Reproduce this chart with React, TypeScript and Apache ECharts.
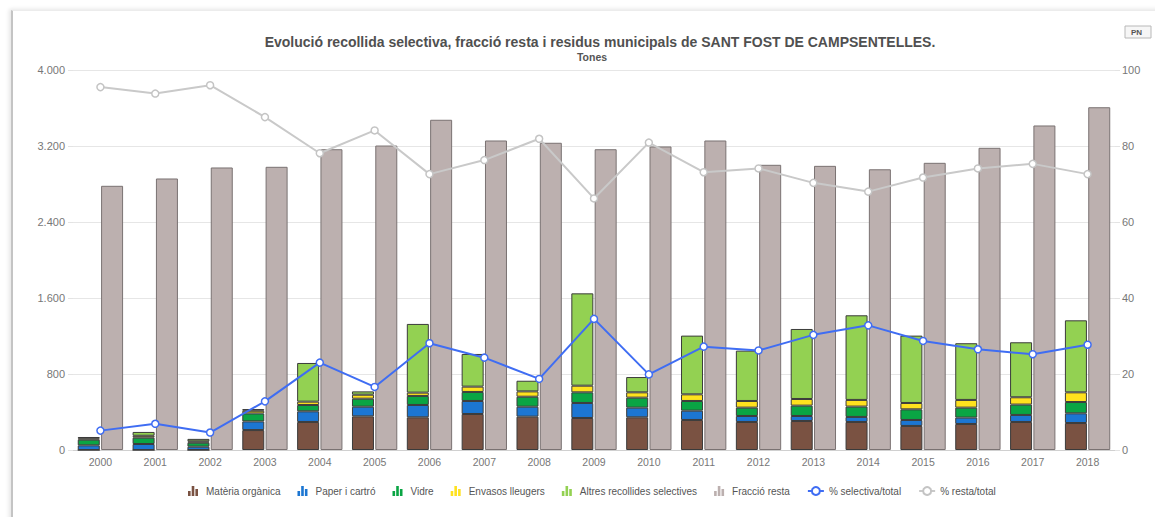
import React, { useEffect, useRef } from "react";
import * as echarts from "echarts";

// Years on the category axis
const years = [
  "2000", "2001", "2002", "2003", "2004", "2005", "2006", "2007", "2008", "2009",
  "2010", "2011", "2012", "2013", "2014", "2015", "2016", "2017", "2018",
];

// Selective collection fractions (tonnes), stacked bottom to top
const materiaOrganica = [0, 0, 0, 210, 295, 354, 344, 379, 351, 337, 344, 316, 295, 305, 295, 253, 274, 295, 284];
const paperCartro = [49, 63, 35, 91, 112, 102, 130, 137, 105, 158, 102, 98, 63, 53, 53, 63, 67, 74, 102];
const vidre = [60, 67, 42, 84, 67, 84, 95, 95, 105, 112, 105, 102, 88, 109, 109, 112, 105, 109, 119];
const envasos = [14, 20, 14, 28, 35, 42, 35, 56, 56, 70, 56, 70, 70, 70, 70, 67, 81, 77, 102];
const altres = [14, 40, 26, 18, 407, 35, 723, 344, 112, 972, 161, 618, 530, 737, 891, 709, 597, 579, 758];

// Residual fraction (tonnes)
const fraccioResta = [2781, 2858, 2974, 2981, 3166, 3205, 3476, 3258, 3234, 3166, 3195, 3258, 3002, 2991, 2955, 3023, 3181, 3416, 3608];

// Shares of the total (%)
const pctSelectiva = [5.1, 6.9, 4.6, 12.8, 23.0, 16.6, 28.1, 24.3, 18.7, 34.5, 19.9, 27.2, 26.2, 30.3, 32.8, 28.7, 26.5, 25.2, 27.7];
const pctResta = [95.5, 93.8, 96.0, 87.6, 78.1, 84.1, 72.6, 76.3, 81.9, 66.2, 80.9, 73.1, 74.1, 70.3, 68.0, 71.7, 74.1, 75.3, 72.6];

// Axis ticks
const leftMax = 4000;
const leftStep = 800;
const rightMax = 100;
const rightStep = 20;

const FONT = "'Liberation Sans', Arial, sans-serif";
const BAR_ICON =
  "path://M0,10 L0,5 L2.6,5 L2.6,10 Z M3.7,10 L3.7,0 L6.3,0 L6.3,10 Z M7.4,10 L7.4,3 L10,3 L10,10 Z";

const fmtThousands = (v: number) =>
  String(v).replace(/\B(?=(\d{3})+(?!\d))/g, ".");

export default function App() {
  const ref = useRef<HTMLDivElement>(null);

  useEffect(() => {
    document.body.style.margin = "0";
    if (!ref.current) return;
    const chart = echarts.init(ref.current, undefined, { renderer: "svg" });

    const stacked = (name: string, data: number[], color: string) => ({
      name,
      type: "bar",
      stack: "selectiva",
      yAxisIndex: 0,
      barWidth: 22,
      barGap: "6%",
      data,
      itemStyle: { color, borderColor: "#3b3b3b", borderWidth: 1 },
      emphasis: { disabled: true },
    });

    const barLegend = (name: string, color: string) => ({
      name,
      icon: BAR_ICON,
      itemStyle: { color, borderWidth: 0 },
    });

    chart.setOption({
      animation: false,
      backgroundColor: "transparent",
      textStyle: { fontFamily: FONT },
      graphic: [
        {
          type: "text",
          style: {
            text: "Evolució recollida selectiva, fracció resta i residus municipals de SANT FOST DE CAMPSENTELLES.",
            x: 600,
            y: 42,
            align: "center",
            verticalAlign: "middle",
            font: `bold 14px ${FONT}`,
            fill: "#505050",
          },
        },
        {
          type: "text",
          style: {
            text: "Tones",
            x: 592,
            y: 57,
            align: "center",
            verticalAlign: "middle",
            font: `bold 10.5px ${FONT}`,
            fill: "#555555",
          },
        },
        {
          type: "rect",
          shape: { x: 1125, y: 26, width: 26, height: 12 },
          style: { fill: "#f6f6f6", stroke: "#b8b8b8", lineWidth: 1 },
        },
        {
          type: "text",
          style: {
            text: "PN",
            x: 1131,
            y: 32,
            verticalAlign: "middle",
            font: `bold 8px ${FONT}`,
            fill: "#555",
          },
        },
      ],
      legend: {
        left: 183,
        top: 481,
        itemGap: 17,
        itemWidth: 16,
        itemHeight: 10,
        textStyle: { fontSize: 10, color: "#555", fontFamily: FONT },
        data: [
          barLegend("Matèria orgànica", "#7a5242"),
          barLegend("Paper i cartró", "#1c76d2"),
          barLegend("Vidre", "#0aa544"),
          barLegend("Envasos lleugers", "#ffe21e"),
          barLegend("Altres recollides selectives", "#93d152"),
          barLegend("Fracció resta", "#bcb0af"),
          { name: "% selectiva/total" },
          { name: "% resta/total" },
        ],
      },
      grid: { left: 73, right: 40, top: 70, bottom: 67, containLabel: false },
      xAxis: {
        type: "category",
        data: years,
        axisLine: { show: true, lineStyle: { color: "#d0d0d0" } },
        axisTick: { show: false },
        axisLabel: { color: "#777", fontSize: 10.5, margin: 6, fontFamily: FONT },
      },
      yAxis: [
        {
          type: "value",
          min: 0,
          max: leftMax,
          interval: leftStep,
          axisLine: { show: false },
          axisTick: { show: true, length: 5, lineStyle: { color: "#e3e3e3" } },
          axisLabel: {
            color: "#777",
            fontSize: 11,
            margin: 8,
            fontFamily: FONT,
            formatter: (v: number) => fmtThousands(v),
          },
          splitLine: { show: true, lineStyle: { color: "#e6e6e6" } },
        },
        {
          type: "value",
          min: 0,
          max: rightMax,
          interval: rightStep,
          position: "right",
          axisLine: { show: false },
          axisTick: { show: true, length: 5, lineStyle: { color: "#e3e3e3" } },
          axisLabel: { color: "#777", fontSize: 11, margin: 7, fontFamily: FONT },
          splitLine: { show: false },
        },
      ],
      series: [
        stacked("Matèria orgànica", materiaOrganica, "#7a5242"),
        stacked("Paper i cartró", paperCartro, "#1c76d2"),
        stacked("Vidre", vidre, "#0aa544"),
        stacked("Envasos lleugers", envasos, "#ffe21e"),
        stacked("Altres recollides selectives", altres, "#93d152"),
        {
          name: "Fracció resta",
          type: "bar",
          yAxisIndex: 0,
          barWidth: 22,
          barGap: "6%",
          data: fraccioResta,
          itemStyle: { color: "#bcb0af", borderColor: "#7a7272", borderWidth: 1 },
          emphasis: { disabled: true },
        },
        {
          name: "% selectiva/total",
          type: "line",
          yAxisIndex: 1,
          data: pctSelectiva,
          symbol: "circle",
          symbolSize: 7,
          z: 5,
          lineStyle: { color: "#3f6df3", width: 2 },
          itemStyle: { color: "#ffffff", borderColor: "#3f6df3", borderWidth: 1.5 },
          emphasis: { disabled: true },
        },
        {
          name: "% resta/total",
          type: "line",
          yAxisIndex: 1,
          data: pctResta,
          symbol: "circle",
          symbolSize: 7,
          z: 5,
          lineStyle: { color: "#c9c9c9", width: 2 },
          itemStyle: { color: "#ffffff", borderColor: "#c4c4c4", borderWidth: 1.5 },
          emphasis: { disabled: true },
        },
      ],
    });

    return () => chart.dispose();
  }, []);

  return (
    <div
      style={{
        position: "fixed",
        left: 0,
        top: 0,
        width: 1155,
        height: 517,
        background: "#ffffff",
        overflow: "hidden",
      }}
    >
      <div
        style={{
          position: "absolute",
          left: 11,
          top: 10,
          width: 1160,
          height: 520,
          borderLeft: "2px solid #c4c4c4",
          borderTop: "1px solid #ececec",
          boxShadow: "-2px -1px 4px rgba(0,0,0,0.10)",
          background: "#ffffff",
        }}
      />
      <div
        ref={ref}
        style={{ position: "absolute", left: 0, top: 0, width: 1155, height: 517 }}
      />
    </div>
  );
}
